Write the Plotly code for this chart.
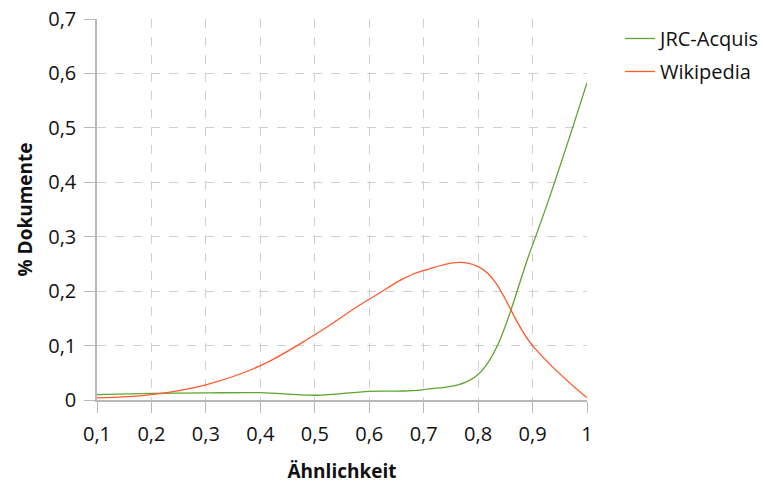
import plotly.graph_objects as go

x_vals = [0.1, 0.2, 0.3, 0.4, 0.5, 0.6, 0.7, 0.8, 0.9, 1.0]
jrc_acquis = [0.010, 0.012, 0.013, 0.0135, 0.0087, 0.016, 0.019, 0.047, 0.285, 0.583]
wikipedia = [0.004, 0.010, 0.028, 0.063, 0.120, 0.185, 0.238, 0.245, 0.100, 0.004]

x_ticks = [0.1, 0.2, 0.3, 0.4, 0.5, 0.6, 0.7, 0.8, 0.9, 1.0]
y_ticks = [0, 0.1, 0.2, 0.3, 0.4, 0.5, 0.6, 0.7]

GREEN = "#5ea52f"
RED = "#ff5a2c"
FONT = "Open Sans"

fig = go.Figure()
fig.add_trace(go.Scatter(x=x_vals, y=jrc_acquis, mode="lines", name="JRC-Acquis",
                         legendgroup="a",
                         line=dict(color=GREEN, width=1.3, shape="spline", smoothing=1.0)))
fig.add_trace(go.Scatter(x=x_vals, y=wikipedia, mode="lines", name="Wikipedia",
                         legendgroup="b",
                         line=dict(color=RED, width=1.3, shape="spline", smoothing=1.15)))

axis_common = dict(
    showgrid=True, gridcolor="#cfcfcf", griddash="dash", gridwidth=1,
    showline=True, linecolor="#b8b8b8", linewidth=1.5,
    ticks="outside", ticklen=11, tickcolor="#b8b8b8", tickwidth=1,
    zeroline=False, automargin=False, ticklabeloverflow="allow",
    tickfont=dict(family=FONT, size=20, color="#111111"),
)

fig.update_layout(
    width=763, height=484,
    margin=dict(l=97, r=176, t=19, b=84, autoexpand=False),
    paper_bgcolor="white", plot_bgcolor="white",
    separators=", ",
    font=dict(family=FONT, size=20, color="#111111"),
    xaxis=dict(range=[0.1, 1.0], tickvals=x_ticks, ticklabelstandoff=4,
               title=dict(text="<b>Ähnlichkeit</b>", font=dict(family=FONT, size=19), standoff=23),
               **axis_common),
    yaxis=dict(range=[0, 0.7], tickvals=y_ticks, ticklabelstandoff=4,
               title=dict(text="<b>% Dokumente</b>", font=dict(family=FONT, size=19), standoff=11),
               **axis_common),
    legend=dict(xref="container", x=0.8126, y=1.0, xanchor="left", yanchor="top",
                font=dict(family=FONT, size=20), tracegroupgap=4,
                bgcolor="rgba(0,0,0,0)", itemwidth=30),
    showlegend=True,
)

fig.write_html("out.html", config={"displayModeBar": False},
               post_script="document.body.style.margin='0px';document.body.style.overflow='hidden';")
